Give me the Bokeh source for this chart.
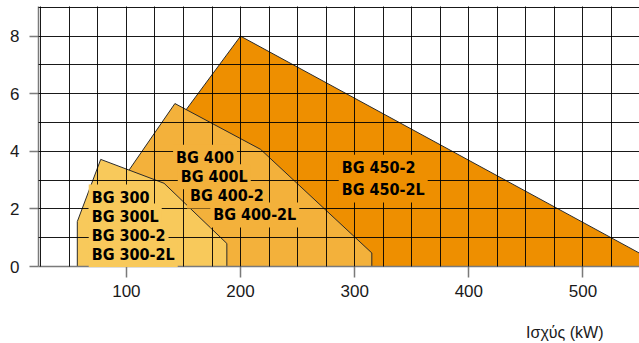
from bokeh.plotting import figure
from bokeh.models import ColumnDataSource, Title, SingleIntervalTicker, Range1d
from bokeh.core.properties import value
from bokeh.embed import file_html
from bokeh.resources import INLINE

# Burner working fields (power kW vs. pressure)
bg450_x = [125, 125, 200, 571]
bg450_y = [0, 3.98, 8.0, 0]
bg400_x = [98, 98, 142.5, 217.5, 315, 315]
bg400_y = [0, 3.1, 5.66, 4.07, 0.47, 0]
bg300_x = [57, 57, 77.5, 133, 188, 188]
bg300_y = [0, 1.56, 3.72, 2.89, 0.80, 0]

colors = ["#EE8F00", "#F3B13B", "#F8C95B"]

labels_300 = ["BG 300", "BG 300L", "BG 300-2", "BG 300-2L"]
labels_300_x = [67.0, 67.0, 67.0, 67.0]
labels_300_y = [2.41, 1.75, 1.08, 0.42]
labels_400 = ["BG 400", "BG 400L", "BG 400-2", "BG 400-2L"]
labels_400_x = [140.9, 145.0, 153.1, 173.5]
labels_400_y = [3.79, 3.12, 2.45, 1.79]
labels_450 = ["BG 450-2", "BG 450-2L"]
labels_450_x = [286.0, 286.0]
labels_450_y = [3.45, 2.66]

x_label = "Ισχύς (kW)"

p = figure(width=639, height=343, output_backend="svg", toolbar_location=None,
           x_range=Range1d(23, 549.5), y_range=Range1d(0, 9.03),
           min_border_left=38, min_border_right=0, min_border_top=6, min_border_bottom=77)
p.outline_line_color = None
p.background_fill_color = "white"
p.border_fill_color = "white"

p.patches(xs=[bg450_x, bg400_x, bg300_x], ys=[bg450_y, bg400_y, bg300_y],
          fill_color=colors, line_color="#2a2a2a", line_width=1)

# grid above polygons
p.xgrid.ticker = SingleIntervalTicker(interval=25)
p.ygrid.ticker = SingleIntervalTicker(interval=1)
for g in (p.xgrid, p.ygrid):
    g.level = "guide"
    g.grid_line_color = "black"
    g.grid_line_alpha = 0.9
    g.grid_line_width = 1

p.xaxis.ticker = SingleIntervalTicker(interval=100, num_minor_ticks=0)
p.yaxis.ticker = SingleIntervalTicker(interval=2, num_minor_ticks=0)
for ax in (p.xaxis, p.yaxis):
    ax.axis_line_color = "#7a7a7a"
    ax.axis_line_width = 1.5
    ax.major_tick_line_color = "#7a7a7a"
    ax.major_tick_line_width = 1.5
    ax.major_tick_in = 0
    ax.minor_tick_line_color = None
    ax.major_label_text_font = "Liberation Sans"
    ax.major_label_text_font_size = "17px"
    ax.major_label_text_color = "#1a1a1a"
p.xaxis.major_tick_out = 11
p.xaxis.major_label_standoff = 7
p.yaxis.major_tick_out = 9
p.yaxis.major_label_standoff = 10

def add_labels(txt, xs, ys, color):
    src = ColumnDataSource(dict(x=xs, y=ys, text=txt))
    p.text(x="x", y="y", text="text", source=src,
           text_font=value("DejaVu Sans Condensed"), text_font_style="bold",
           text_font_size="16px", text_color="black",
           text_align="left", text_baseline="alphabetic",
           background_fill_color=color, padding=3, level="annotation")

add_labels(labels_450, labels_450_x, labels_450_y, colors[0])
add_labels(labels_400, labels_400_x, labels_400_y, colors[1])
add_labels(labels_300, labels_300_x, labels_300_y, colors[2])

p.add_layout(Title(text=" ", standoff=0, text_font_size="18px"), "below")
p.add_layout(Title(text=x_label, align="right", offset=36, standoff=0,
                   text_font="Liberation Sans", text_font_size="16px",
                   text_font_style="normal", text_color="#1a1a1a"), "below")

open("out.html", "w").write(file_html(p, INLINE))
